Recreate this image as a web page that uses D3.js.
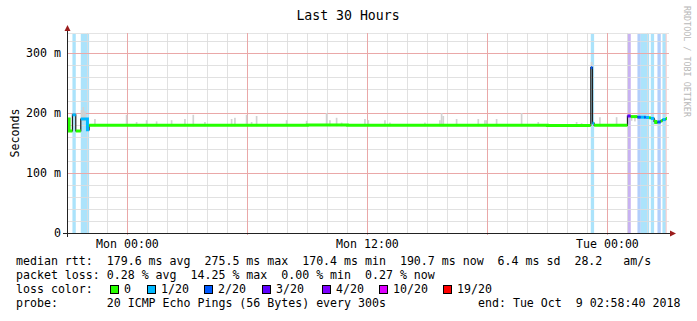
<!DOCTYPE html>
<html>
<head>
<meta charset="utf-8">
<script src="https://cdn.jsdelivr.net/npm/d3@7"></script>
<style>
    body { margin: 0; background: #fff; }
    text { font-family: "DejaVu Sans Mono", monospace; }
</style>
</head>
<body>
<div id="chart"></div>
<script>

const START = "Sun 20:58:40", END = "Tue 02:58:40";

// median rtt in ms, one step per entry: step start, value, lost pings (of 20)
const rttTimes = ["Sun 20:55", "Sun 21:05", "Sun 21:15", "Sun 21:25", "Sun 21:40", "Sun 22:00", "Sun 22:05",
    "Sun 23:00", "Mon 01:00", "Mon 03:00", "Mon 05:00", "Mon 07:00", "Mon 09:00", "Mon 11:00", "Mon 13:00",
    "Mon 15:00", "Mon 17:00", "Mon 19:00", "Mon 21:00", "Mon 23:10", "Mon 23:15", "Mon 23:20",
    "Tue 01:00", "Tue 01:10", "Tue 01:30", "Tue 01:40", "Tue 01:50", "Tue 01:55", "Tue 02:05", "Tue 02:10",
    "Tue 02:20", "Tue 02:25", "Tue 02:30", "Tue 02:40", "Tue 02:45", "Tue 02:55"];
const rttMs = [190, 170, 197, 170, 190, 172, 179.5,
    179.7, 179.4, 179.6, 179.5, 179.6, 179.8, 179.4, 179.5,
    179.6, 179.4, 179.6, 179.3, 275.5, 183, 179.5,
    195, 194, 193, 193, 193, 192.5, 192, 191,
    186, 184, 185, 187, 189, 190.7];
const rttLoss = [0, 0, 1, 0, 1, 1, 0,
    0, 0, 0, 0, 0, 0, 0, 0,
    0, 0, 0, 0, 2, 1, 0,
    3, 0, 2, 1, 2, 1, 0, 1,
    0, 0, 2, 0, 1, 0];

// smoke (spread of the 20 pings) where it shows above / below the median
const smokeTimes = ["Sun 21:40", "Sun 21:45", "Sun 21:50", "Sun 22:20", "Sun 23:55", "Mon 00:25", "Mon 00:55",
    "Mon 01:25", "Mon 02:10", "Mon 02:50", "Mon 03:15", "Mon 03:50", "Mon 05:10", "Mon 05:20", "Mon 05:55",
    "Mon 06:10", "Mon 06:25", "Mon 07:55", "Mon 08:55", "Mon 09:55", "Mon 10:05", "Mon 10:25", "Mon 10:40",
    "Mon 11:50", "Mon 12:00", "Mon 12:50", "Mon 13:05", "Mon 14:50", "Mon 15:35", "Mon 15:40", "Mon 15:45",
    "Mon 16:25", "Mon 17:30", "Mon 17:50", "Mon 17:55", "Mon 18:25", "Mon 19:40", "Mon 20:30", "Mon 22:25",
    "Mon 22:40", "Mon 23:10", "Mon 23:35", "Tue 00:25", "Tue 01:10", "Tue 01:20", "Tue 01:30", "Tue 02:20",
    "Tue 02:25"];
const smokeLow = [186, 186, 186, 178, 178, 178, 178,
    178, 178, 178, 178, 178, 178, 178, 178,
    178, 178, 178, 178, 178, 178, 178, 178,
    178, 178, 178, 178, 178, 178, 178, 178,
    178, 178, 178, 178, 178, 178, 178, 178,
    178, 272, 178, 178, 187, 186, 188, 181,
    181];
const smokeHigh = [205, 210, 203, 190, 197, 185, 188,
    186, 188, 190, 197, 185, 190, 192, 197,
    185, 195, 188, 187, 200, 188, 192, 184,
    190, 188, 188, 184, 184, 188, 200, 195,
    190, 190, 188, 188, 190, 200, 185, 185,
    183, 285, 193, 193, 196, 196, 195, 190,
    188];

// loss background bands
const bandFrom = ["Sun 21:15", "Sun 21:40", "Mon 23:10", "Tue 01:00", "Tue 01:30", "Tue 01:40", "Tue 02:10",
    "Tue 02:30", "Tue 02:45", "Tue 02:55"];
const bandTo = ["Sun 21:25", "Sun 22:05", "Mon 23:20", "Tue 01:10", "Tue 01:40", "Tue 02:05", "Tue 02:20",
    "Tue 02:40", "Tue 02:55", "Tue 02:57"];
const bandLoss = [1, 1, 1, 3, 2, 1, 1, 2, 1, 19];

const yTicks = [0, 0.1, 0.2, 0.3];
const yTickLabels = ["0", "100 m", "200 m", "300 m"];
const xTickTimes = ["Mon 00:00", "Mon 12:00", "Tue 00:00"];
const xTickLabels = ["Mon 00:00", "Mon 12:00", "Tue 00:00"];

const lossLevels = [0, 1, 2, 3, 4, 10, 19];
const lossLabels = ["0", "1/20", "2/20", "3/20", "4/20", "10/20", "19/20"];
const lossColors = ["#26ff00", "#00b8ff", "#0059ff", "#5e00ff", "#7e00ff", "#dd00ff", "#ff0000"];
const bandColors = ["#ffffff", "#abe3fb", "#b2cefb", "#c8b2f2", "#cdb0f2", "#ecb0f8", "#f7a8a8"];

const legendLines = [
    "median rtt:  179.6 ms avg  275.5 ms max  170.4 ms min  190.7 ms now  6.4 ms sd  28.2   am/s",
    "packet loss: 0.28 % avg  14.25 % max  0.00 % min  0.27 % now",
    "loss color:",
    "probe:       20 ICMP Echo Pings (56 Bytes) every 300s"
];
const endLabel = "end: Tue Oct  9 02:58:40 2018";

// ---------------------------------------------------------------

const days = { Sun: "2018-10-07", Mon: "2018-10-08", Tue: "2018-10-09" };
const parseFull = d3.timeParse("%Y-%m-%d %H:%M:%S");
function parseT(s) {
    let [d, hm] = s.split(" ");
    if (hm.length === 5) hm += ":00";
    return parseFull(days[d] + " " + hm);
}
const STEP = 5 * 60 * 1000;

const W = 697, H = 321;
const plot = { left: 67, right: 667, top: 33, bottom: 233 };

const svg = d3.select("#chart").append("svg")
    .attr("width", W)
    .attr("height", H);

svg.append("rect").attr("width", W).attr("height", H).attr("fill", "#fff");

const x = d3.scaleTime()
    .domain([parseT(START), parseT(END)])
    .range([plot.left, plot.right]);

const y = d3.scaleLinear()
    .domain([0, 1 / 3])
    .range([plot.bottom, plot.top]);

const ms = v => y(v / 1000);

svg.append("clipPath").attr("id", "clip")
    .append("rect")
    .attr("x", plot.left).attr("y", plot.top)
    .attr("width", plot.right - plot.left).attr("height", plot.bottom - plot.top);

// layers: bands below the grid, smoke and lines above
const bandLayer = svg.append("g").attr("clip-path", "url(#clip)");
const gridLayer = svg.append("g");
const dataLayer = svg.append("g").attr("clip-path", "url(#clip)");

// loss bands
bandLayer.selectAll("rect.band")
    .data(bandFrom.map((f, i) => ({ from: parseT(f), to: parseT(bandTo[i]), loss: bandLoss[i] })))
    .join("rect")
    .attr("class", "band")
    .attr("x", d => x(d.from))
    .attr("width", d => x(d.to) - x(d.from))
    .attr("y", plot.top)
    .attr("height", plot.bottom - plot.top)
    .attr("fill", d => bandColors[lossLevels.indexOf(d.loss)]);

// grid
const minorH = d3.range(0, 0.34, 0.02).filter(v => Math.round(v * 100) % 10 !== 0);
const majorH = [0.1, 0.2, 0.3];
const minorV = d3.timeHour.range(x.domain()[0], x.domain()[1]).filter(t => t.getHours() % 6 !== 0);
const majorV = d3.timeHour.range(x.domain()[0], x.domain()[1]).filter(t => t.getHours() % 6 === 0);

gridLayer.append("g").selectAll("line")
    .data(minorH).join("line")
    .attr("x1", plot.left).attr("x2", plot.right + 2)
    .attr("y1", d => Math.round(y(d)) + 0.5).attr("y2", d => Math.round(y(d)) + 0.5)
    .attr("stroke", "#dcdcdc")
    .attr("stroke-opacity", 0.85);
gridLayer.append("line")
    .attr("x1", plot.left).attr("x2", plot.right + 2)
    .attr("y1", plot.top + 0.5).attr("y2", plot.top + 0.5)
    .attr("stroke", "#e4e4e4");
gridLayer.append("g").selectAll("line")
    .data(minorV).join("line")
    .attr("x1", d => Math.round(x(d)) + 0.5).attr("x2", d => Math.round(x(d)) + 0.5)
    .attr("y1", plot.top).attr("y2", plot.bottom)
    .attr("stroke", "#dcdcdc")
    .attr("stroke-opacity", 0.85);
gridLayer.append("g").selectAll("line")
    .data(majorH).join("line")
    .attr("x1", plot.left).attr("x2", plot.right + 2)
    .attr("y1", d => Math.round(y(d)) + 0.5).attr("y2", d => Math.round(y(d)) + 0.5)
    .attr("stroke", "#eaa8a8");
gridLayer.append("g").selectAll("line")
    .data(majorV).join("line")
    .attr("x1", d => Math.round(x(d)) + 0.5).attr("x2", d => Math.round(x(d)) + 0.5)
    .attr("y1", plot.top).attr("y2", plot.bottom + 2)
    .attr("stroke", "#eaa8a8");

// smoke
dataLayer.selectAll("rect.smoke")
    .data(smokeTimes.map((t, i) => ({ t: parseT(t), lo: smokeLow[i], hi: smokeHigh[i] })))
    .join("rect")
    .attr("class", "smoke")
    .attr("x", d => x(d.t))
    .attr("width", d => x(+d.t + STEP) - x(d.t))
    .attr("y", d => ms(d.hi))
    .attr("height", d => ms(d.lo) - ms(d.hi))
    .attr("fill", "#d2d2d2");

// median: dark step line, then coloured by loss
const pts = rttTimes.map((t, i) => ({ t: parseT(t), v: rttMs[i], loss: rttLoss[i] }));
const stepEnd = i => i + 1 < pts.length ? pts[i + 1].t : parseT(END);

const line = d3.line()
    .x(d => x(d.t))
    .y(d => ms(d.v))
    .curve(d3.curveStepAfter);

dataLayer.append("path")
    .datum(pts.concat([{ t: parseT(END), v: pts[pts.length - 1].v }]))
    .attr("d", line)
    .attr("fill", "none")
    .attr("stroke", "#202020")
    .attr("stroke-width", 1.2);

let runs = [];
pts.forEach((p, i) => {
    let last = runs[runs.length - 1];
    if (!last || last.loss !== p.loss) {
        last = { loss: p.loss, pts: [] };
        runs.push(last);
    }
    last.pts.push(p);
    last.end = { t: stepEnd(i), v: p.v };
});

dataLayer.selectAll("path.rtt")
    .data(runs).join("path")
    .attr("class", "rtt")
    .attr("d", r => line(r.pts.concat([r.end])))
    .attr("fill", "none")
    .attr("stroke", r => lossColors[lossLevels.indexOf(r.loss)])
    .attr("stroke-width", 3);

// axes
const axisColor = "#222";
svg.append("line")
    .attr("x1", plot.left - 4).attr("x2", plot.right + 5)
    .attr("y1", plot.bottom + 0.5).attr("y2", plot.bottom + 0.5)
    .attr("stroke", axisColor);
svg.append("line")
    .attr("x1", plot.left + 0.5).attr("x2", plot.left + 0.5)
    .attr("y1", plot.bottom + 4).attr("y2", plot.top - 4)
    .attr("stroke", axisColor);
svg.append("path")
    .attr("d", `M${plot.right + 3},${plot.bottom - 2.5}L${plot.right + 9},${plot.bottom + 0.5}L${plot.right + 3},${plot.bottom + 3.5}Z`)
    .attr("fill", "#9b1c1c");
svg.append("path")
    .attr("d", `M${plot.left - 2.5},${plot.top - 2}L${plot.left + 0.5},${plot.top - 8}L${plot.left + 3.5},${plot.top - 2}Z`)
    .attr("fill", "#9b1c1c");

// tick labels
svg.append("g").selectAll("text")
    .data(yTicks).join("text")
    .attr("x", 61)
    .attr("y", d => y(d) + 4)
    .attr("text-anchor", "end")
    .attr("font-size", "11.6px")
    .attr("fill", "#000")
    .text((d, i) => yTickLabels[i]);

svg.append("g").selectAll("text")
    .data(xTickTimes).join("text")
    .attr("x", d => x(parseT(d)))
    .attr("y", 248)
    .attr("text-anchor", "middle")
    .attr("font-size", "11.6px")
    .attr("fill", "#000")
    .text((d, i) => xTickLabels[i]);

// titles
svg.append("text")
    .attr("x", 348).attr("y", 20)
    .attr("text-anchor", "middle")
    .attr("font-size", "13.2px")
    .text("Last 30 Hours");

svg.append("text")
    .attr("transform", "translate(19,133) rotate(-90)")
    .attr("text-anchor", "middle")
    .attr("font-size", "11.6px")
    .text("Seconds");

svg.append("text")
    .attr("transform", "translate(684,6) rotate(90)")
    .attr("font-size", "8.4px")
    .attr("fill", "#b8b8b8")
    .text("RRDTOOL / TOBI OETIKER");

// legend
svg.append("g").selectAll("text")
    .data(legendLines).join("text")
    .attr("x", 16)
    .attr("y", (d, i) => 265 + i * 14)
    .attr("font-size", "11.6px")
    .style("white-space", "pre")
    .text(d => d);

svg.append("text")
    .attr("x", 478).attr("y", 307)
    .attr("font-size", "11.6px")
    .style("white-space", "pre")
    .text(endLabel);

const swatchX = [110, 147, 204, 262, 322, 379, 443];
const sw = svg.append("g").selectAll("g")
    .data(lossLabels).join("g")
    .attr("transform", (d, i) => `translate(${swatchX[i]},285)`);
sw.append("rect")
    .attr("x", 0.5).attr("y", 0.5)
    .attr("width", 8).attr("height", 8)
    .attr("fill", (d, i) => lossColors[i])
    .attr("stroke", "#000");
sw.append("text")
    .attr("x", 14).attr("y", 8)
    .attr("font-size", "11.6px")
    .text(d => d);

</script>
</body>
</html>
